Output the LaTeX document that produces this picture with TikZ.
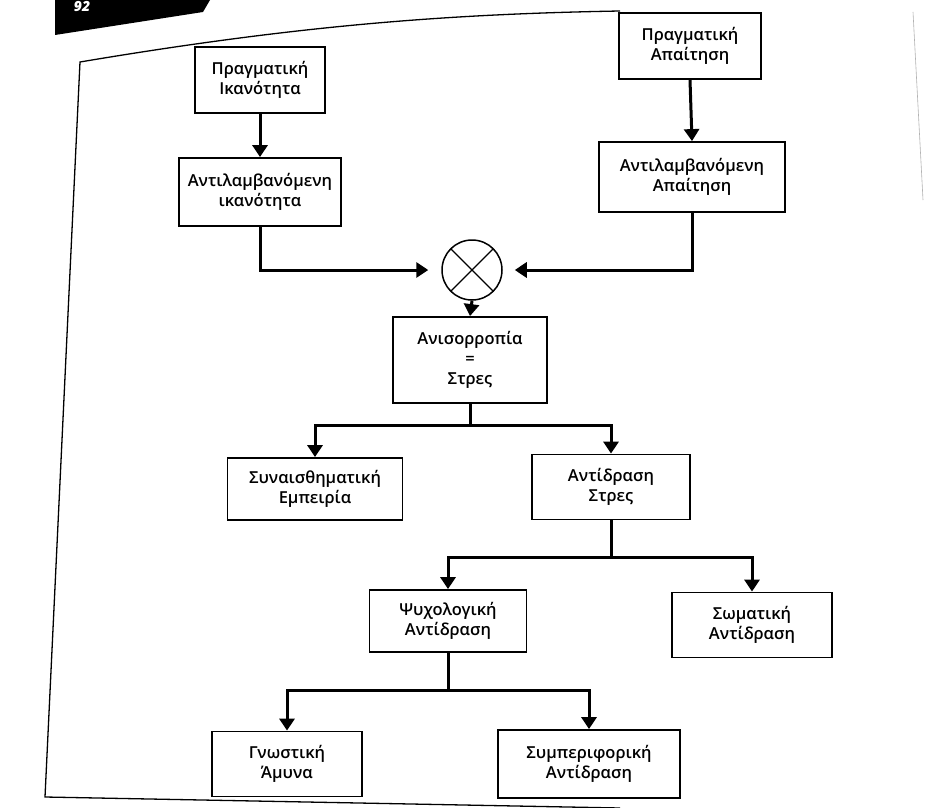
\documentclass[tikz,border=0pt]{standalone}
\usepackage{fontspec}
\IfFontExistsTF{Open Sans SemiBold}{\setmainfont{Open Sans SemiBold}}{%
  \IfFontExistsTF{Open Sans Semibold}{\setmainfont{Open Sans Semibold}}{\setmainfont{Open Sans}}}
\usetikzlibrary{arrows.meta}
\tikzset{
  box/.style={draw=black, line width=1.8pt, align=center, inner sep=0pt,
    font=\fontsize{16.5}{20}\selectfont},
  conn/.style={line width=3pt, -{Triangle[width=15pt,length=12pt]}},
  plain/.style={line width=3pt},
}
\begin{document}
\begin{tikzpicture}[x=1pt,y=-1pt]
\useasboundingbox (0,0) rectangle (934,808);
\fill[white] (0,0) rectangle (934,808);
% page artifacts
\fill[black] (55,0) -- (210,0) -- (203,12) -- (55,35) -- cycle;
\node[text=white, font=\bfseries\itshape\fontsize{14}{14}\selectfont] (pg) at (82,6) {92};
\draw[line width=1.3pt] (620,11) .. controls (450,14) and (300,25) .. (80,62) -- (45,797) -- (620,808);
\draw[gray!60, line width=0.6pt] (913,12) -- (923,200);

% boxes
\node[box, minimum width=130, minimum height=66] (pi) at (260,80) {Πραγματική\\Ικανότητα};
\node[box, minimum width=162, minimum height=68] (ai) at (260,192) {Αντιλαμβανόμενη\\ικανότητα};
\node[box, minimum width=142, minimum height=66] (pa) at (690,46) {Πραγματική\\Απαίτηση};
\node[box, minimum width=186, minimum height=70] (aa) at (692,177) {Αντιλαμβανόμενη\\Απαίτηση};
\node[draw, line width=1.5pt, circle, minimum size=60, inner sep=0pt,
  path picture={\draw[line width=1.3pt] (path picture bounding box.north west) -- (path picture bounding box.south east)
    (path picture bounding box.south west) -- (path picture bounding box.north east);}] (cmp) at (472,270) {};
\node[box, minimum width=154, minimum height=86] (st) at (470,360) {Ανισορροπία\\=\\Στρες};
\node[box, minimum width=175, minimum height=62] (se) at (315,489) {Συναισθηματική\\Εμπειρία};
\node[box, minimum width=158, minimum height=65] (as) at (611,487) {Αντίδραση\\Στρες};
\node[box, minimum width=157, minimum height=62] (pr) at (448,621) {Ψυχολογική\\Αντίδραση};
\node[box, minimum width=160, minimum height=65] (sr) at (752,625) {Σωματική\\Αντίδραση};
\node[box, minimum width=150, minimum height=65] (ga) at (287,764) {Γνωστική\\Άμυνα};
\node[box, minimum width=182, minimum height=68] (br) at (589,764) {Συμπεριφορική\\Αντίδραση};

% connectors
\draw[conn] (pi.south) -- (ai.north);
\draw[conn] (pa.south) -- (aa.north);
\draw[conn, shorten >=13pt] (ai.south) |- (cmp.west);
\draw[conn, shorten >=12pt] (aa.south) |- (cmp.east);
\draw[conn] (cmp.south) -- (st.north);

\coordinate (j1) at (470,425);
\draw[plain] (st.south) -- (j1);
\draw[conn] (j1) -| (se.north);
\draw[conn] (j1) -| (as.north);

\coordinate (j2) at (611,557);
\draw[plain] (as.south) -- (j2);
\draw[conn] (j2) -| (pr.north);
\draw[conn] (j2) -| (sr.north);

\coordinate (j3) at (448,690);
\draw[plain] (pr.south) -- (j3);
\draw[conn] (j3) -| (ga.north);
\draw[conn] (j3) -| (br.north);
\end{tikzpicture}
\end{document}
